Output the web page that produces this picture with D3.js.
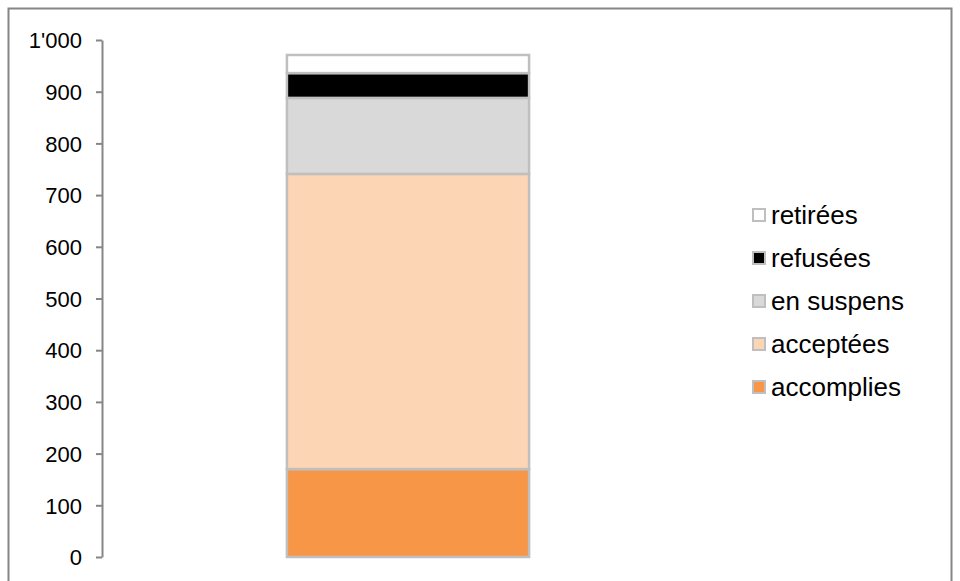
<!DOCTYPE html>
<html>
<head>
<meta charset="utf-8">
<script src="https://cdn.jsdelivr.net/npm/d3@7"></script>
<style>
  body { margin: 0; background: #fff; }
  text { font-family: "Liberation Sans", Arial, sans-serif; }
</style>
</head>
<body>
<div id="chart"></div>
<script>
// data, bottom to top
const categories = ["total"]
const series = ["accomplies", "acceptées", "en suspens", "refusées", "retirées"]
const values = [170, 571, 147, 48, 35]
const colors = ["#f79646", "#fcd5b5", "#d9d9d9", "#000000", "#ffffff"]
const yTicks = [0, 100, 200, 300, 400, 500, 600, 700, 800, 900, 1000]

const W = 960, H = 581
const margin = { top: 40, right: 246, bottom: 24, left: 102 },
  w = W - margin.left - margin.right,
  h = 557 - margin.top

const svg = d3.select("#chart")
  .append("svg")
  .attr("width", W)
  .attr("height", H)

// outer frame
svg.append("rect")
  .attr("x", 8.5).attr("y", 8.5)
  .attr("width", W - 17).attr("height", H + 10)
  .attr("fill", "none")
  .attr("stroke", "#868686")
  .attr("stroke-width", 2)

const g = svg.append("g")
  .attr("transform", `translate(${margin.left}, ${margin.top})`)

const x = d3.scaleBand()
  .domain(categories)
  .range([0, w])
  .padding(0.433)

const y = d3.scaleLinear()
  .domain([0, 1000])
  .range([h, 0])

// y axis
const yAxis = g.append("g")
  .call(d3.axisLeft(y)
    .tickValues(yTicks)
    .tickSize(6)
    .tickSizeOuter(0)
    .tickPadding(14)
    .tickFormat(d => d >= 1000 ? d3.format(",")(d).replace(",", "'") : d))
yAxis.select(".domain").attr("stroke", "#868686").attr("stroke-width", 2)
yAxis.selectAll(".tick line").attr("stroke", "#868686").attr("stroke-width", 2)
yAxis.selectAll(".tick text")
  .attr("fill", "#000")
  .style("font-size", "22px")
  .attr("dy", "0.35em")

// stacked bar
let cum = 0
const stack = values.map((v, i) => {
  const d = { key: series[i], y0: cum, y1: cum + v, color: colors[i] }
  cum += v
  return d
})

g.append("g")
  .selectAll("rect")
  .data(stack)
  .join("rect")
  .attr("x", x("total"))
  .attr("width", x.bandwidth())
  .attr("y", d => y(d.y1))
  .attr("height", d => y(d.y0) - y(d.y1))
  .attr("fill", d => d.color)
  .attr("stroke", "#bfbfbf")
  .attr("stroke-width", 2.5)

// legend (top to bottom = reverse of stack)
const legend = svg.append("g")
  .attr("transform", "translate(753, 215)")
const items = legend.selectAll("g")
  .data(stack.slice().reverse())
  .join("g")
  .attr("transform", (d, i) => `translate(0, ${i * 43})`)
items.append("rect")
  .attr("x", 0).attr("y", -6)
  .attr("width", 12).attr("height", 12)
  .attr("fill", d => d.color)
  .attr("stroke", "#bfbfbf")
  .attr("stroke-width", 2)
items.append("text")
  .attr("x", 18)
  .attr("y", 0)
  .attr("dy", "0.35em")
  .style("font-size", "26px")
  .attr("fill", "#000")
  .text(d => d.key)
</script>
</body>
</html>
